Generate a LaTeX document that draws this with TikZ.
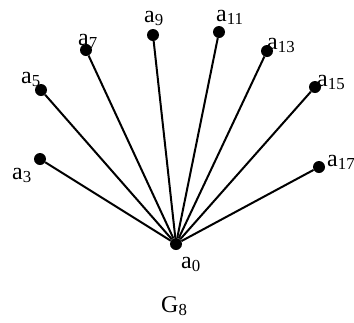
\documentclass[tikz,border=0pt]{standalone}
\usepackage{fontspec}
\setmainfont{Liberation Serif}
\usetikzlibrary{positioning}

\begin{document}
\begin{tikzpicture}[
  x=1pt, y=-1pt,
  vdot/.style={circle, fill=black, inner sep=0pt, minimum size=12pt},
  edge/.style={draw=black, line width=2pt},
  lab/.style={anchor=base west, inner sep=0pt, font=\fontsize{24}{28}\selectfont}
]
  \useasboundingbox (0,0) rectangle (354,322);

  % vertices
  \node[vdot] (a0) at (176,244) {};
  \node[vdot] (a3) at (40,159) {};
  \node[vdot] (a5) at (41,90) {};
  \node[vdot] (a7) at (86,50) {};
  \node[vdot] (a9) at (153,35) {};
  \node[vdot] (a11) at (219,32) {};
  \node[vdot] (a13) at (267,51) {};
  \node[vdot] (a15) at (315,87) {};
  \node[vdot] (a17) at (319,167) {};

  % edges
  \foreach \n in {3,5,...,17}
    \draw[edge] (a0) -- (a\n);

  % labels
  \node[lab] (la0) at (181,268) {a\textsubscript{0}};
  \node[lab] (la3) at (12,179) {a\textsubscript{3}};
  \node[lab] (la5) at (21,83) {a\textsubscript{5}};
  \node[lab] (la7) at (78,45) {a\textsubscript{7}};
  \node[lab] (la9) at (144,22) {a\textsubscript{9}};
  \node[lab] (la11) at (216,21) {a\textsubscript{11}};
  \node[lab] (la13) at (267,49) {a\textsubscript{13}};
  \node[lab] (la15) at (317,86) {a\textsubscript{15}};
  \node[lab] (la17) at (327,166) {a\textsubscript{17}};
  \node[lab] (g8) at (161,312) {G\textsubscript{8}};
\end{tikzpicture}
\end{document}
